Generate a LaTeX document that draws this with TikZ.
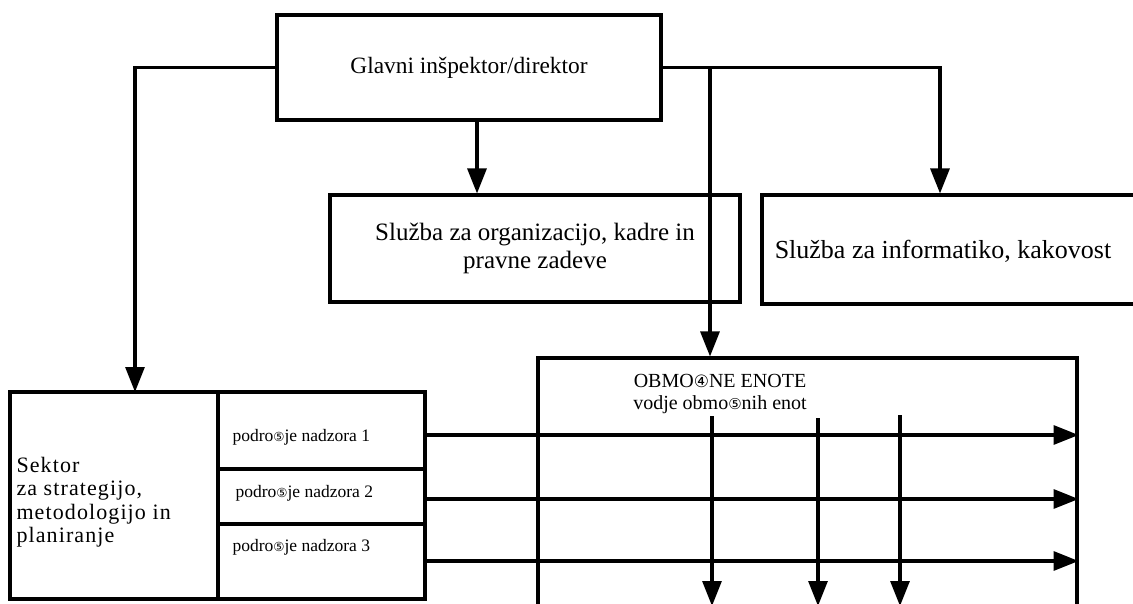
\documentclass[tikz,border=0pt]{standalone}
\usepackage{fontspec}
\setmainfont{Liberation Serif}
\newfontfamily\symfont{DejaVu Sans}
\usetikzlibrary{arrows.meta,calc}
\newcommand{\circsym}[2]{{\symfont\fontsize{#1}{#1}\selectfont #2}}
\begin{document}
\begin{tikzpicture}[x=1pt,y=-1pt,
  box/.style={draw,line width=3.1pt,rectangle,inner sep=0pt},
  arr/.style={line width=3.1pt,-{Triangle[length=25pt,width=19pt]}},
  small/.style={font=\fontsize{17.5}{20}\selectfont}]
\useasboundingbox (0,0) rectangle (1133,604);
\clip (0,0) rectangle (1133,604);
% boxes
\node[box,minimum width=384pt,minimum height=105pt,font=\fontsize{23.4}{27}\selectfont] (gl) at (469,67.5) {Glavni inšpektor/direktor};
\node[box,minimum width=410pt,minimum height=107pt,align=center,font=\fontsize{25}{28}\selectfont] (so) at (535,248.5) {Služba za organizacijo, kadre in\\pravne zadeve};
\node[box,minimum width=388pt,minimum height=109pt] (si) at (956,249.5) {};
\node[font=\fontsize{26}{28}\selectfont] (sitxt) at (943,251) {Služba za informatiko, kakovost};
\node[box,minimum width=539pt,minimum height=280pt] (ob) at (807.5,498) {};
\node[align=center,font=\fontsize{20}{22}\selectfont] (obtxt) at (720,394) {OBMO\circsym{17}{④}NE ENOTE\\vodje obmo\circsym{15}{⑤}nih enot};
\node[box,minimum width=208pt,minimum height=207pt] (sek) at (114,495.5) {};
\node[align=left,anchor=west,font=\fontsize{22}{23.5}\selectfont\addfontfeatures{LetterSpace=5}] (sektxt) at (13,502) {Sektor\\za strategijo,\\metodologijo in\\planiranje};
\node[box,minimum width=207pt,minimum height=77pt] (p1) at (321.5,430.5) {};
\node[box,minimum width=207pt,minimum height=55pt] (p2) at (321.5,496.5) {};
\node[box,minimum width=207pt,minimum height=75pt] (p3) at (321.5,561.5) {};
\node[small,anchor=west] (t1) at (229,437) {podro\circsym{12.5}{⑤}je nadzora 1};
\node[small,anchor=west] (t2) at (232,493) {podro\circsym{12.5}{⑤}je nadzora 2};
\node[small,anchor=west] (t3) at (229,547) {podro\circsym{12.5}{⑤}je nadzora 3};
% coordinates
\coordinate (c1) at (135,392);
% connectors
\draw[arr] (gl.west) -| (c1);
\draw[arr] (gl.south -| 477,0) -- (so.north -| 477,0);
\draw[arr] (gl.east) -| (si.north -| 940,0);
\draw[arr] (gl.east -| 710,0) -- (ob.north -| 710,0);
\draw[arr] (p1.east |- 0,435) -- (ob.east |- 0,435);
\draw[arr] (p2.east |- 0,499) -- (ob.east |- 0,499);
\draw[arr] (p3.east |- 0,561) -- (ob.east |- 0,561);
\coordinate (a1) at (712,416); \coordinate (b1) at (712,606);
\coordinate (a2) at (818,418); \coordinate (b2) at (818,606);
\coordinate (a3) at (900,415); \coordinate (b3) at (900,606);
\draw[arr] (a1) -- (b1);
\draw[arr] (a2) -- (b2);
\draw[arr] (a3) -- (b3);
\end{tikzpicture}
\end{document}
